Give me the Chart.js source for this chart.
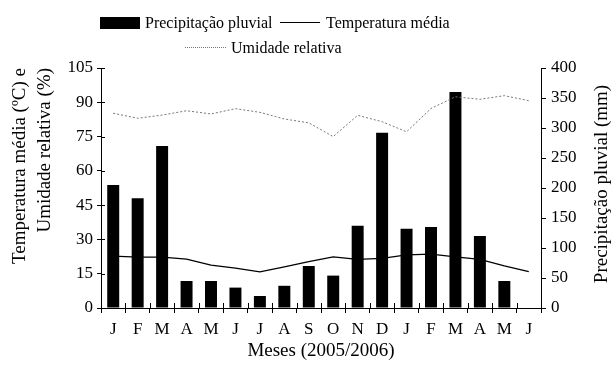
<!DOCTYPE html>
<html>
<head>
<meta charset="utf-8">
<script src="https://cdn.jsdelivr.net/npm/chart.js@4.4.1/dist/chart.umd.min.js"></script>
<style>
  body { margin: 0; background: #fff; }
  #wrap { position: relative; width: 614px; height: 372px; }
  #legend span { position: absolute; font-family: "Liberation Serif", serif; font-size: 16px; color: #000; line-height: 16px; white-space: nowrap; }
  #legend i { position: absolute; display: block; }
</style>
</head>
<body>
<div id="wrap">
  <canvas id="chart" width="614" height="372"></canvas>
  <div id="legend">
    <i style="left:100px;top:17px;width:40px;height:12px;background:#000"></i>
    <span style="left:145px;top:15px">Precipitação pluvial</span>
    <i style="left:280px;top:22px;width:40px;height:0;border-top:1.5px solid #000"></i>
    <span style="left:326px;top:15px">Temperatura média</span>
    <i style="left:185px;top:47px;width:41px;height:0;border-top:1px dotted #777"></i>
    <span style="left:231px;top:40px">Umidade relativa</span>
  </div>
</div>
<script>
// months Jan/2005 .. Jun/2006
const months = ["J", "F", "M", "A", "M", "J", "J", "A", "S", "O", "N", "D", "J", "F", "M", "A", "M", "J"];
// precipitation (mm), right axis
const precipitacao = [205, 183, 270, 45, 45, 34, 20, 37, 70, 54, 137, 292, 132, 135, 360, 120, 45, 0];
// mean temperature (ºC), left axis
const temperatura = [22.7, 22.3, 22.3, 21.4, 18.8, 17.4, 15.8, 18, 20.3, 22.4, 21.3, 21.7, 23.2, 23.6, 22.4, 21.3, 18.4, 15.9];
// relative humidity (%), left axis
const umidade = [85.2, 83, 84.4, 86.3, 84.9, 87.2, 85.6, 82.7, 81, 75, 84.3, 81.5, 77.1, 87.3, 92.4, 91.3, 92.9, 90.7];

const leftTicks = [0, 15, 30, 45, 60, 75, 90, 105];
const rightTicks = [0, 50, 100, 150, 200, 250, 300, 350, 400];
const rightTitle = "Precipitação pluvial (mm)";

Chart.defaults.font.family = "Liberation Serif";
Chart.defaults.color = "#000";

// ticks that cross the left and bottom axis lines
const crossTicks = {
  id: "crossTicks",
  afterDraw(chart) {
    const { ctx, chartArea, scales } = chart;
    ctx.save();
    ctx.strokeStyle = "#000";
    ctx.lineWidth = 1;
    ctx.beginPath();
    leftTicks.forEach((v) => {
      const y = Math.round(scales.y.getPixelForValue(v)) + 0.5;
      ctx.moveTo(chartArea.left, y);
      ctx.lineTo(chartArea.left + 4, y);
    });
    for (let i = 0; i <= months.length; i++) {
      const x = Math.round(scales.x.getPixelForValue(i - 0.5)) + 0.5;
      ctx.moveTo(x, chartArea.bottom);
      ctx.lineTo(x, chartArea.bottom - 5);
    }
    ctx.stroke();

    // right axis title, read bottom to top like the left one
    const s = scales.y1;
    ctx.translate(s.right - 12, (chartArea.top + chartArea.bottom) / 2 - 4);
    ctx.rotate(-Math.PI / 2);
    ctx.font = "19px 'Liberation Serif'";
    ctx.fillStyle = "#000";
    ctx.textAlign = "center";
    ctx.textBaseline = "middle";
    ctx.fillText(rightTitle, 0, 0);
    ctx.restore();
  }
};

new Chart(document.getElementById("chart"), {
  type: "bar",
  data: {
    labels: months,
    datasets: [
      {
        type: "line",
        label: "Umidade relativa",
        data: umidade,
        yAxisID: "y",
        borderColor: "#777",
        borderWidth: 1,
        borderDash: [2, 2],
        pointRadius: 0,
        tension: 0,
        order: 1
      },
      {
        type: "line",
        label: "Temperatura média",
        data: temperatura,
        yAxisID: "y",
        borderColor: "#000",
        borderWidth: 1.3,
        pointRadius: 0,
        tension: 0,
        order: 2
      },
      {
        label: "Precipitação pluvial",
        data: precipitacao,
        yAxisID: "y1",
        backgroundColor: "#000",
        categoryPercentage: 1,
        barPercentage: 0.49,
        order: 3
      }
    ]
  },
  options: {
    responsive: false,
    animation: false,
    layout: { padding: { top: 68, left: 0, right: 0, bottom: 0 } },
    plugins: {
      legend: { display: false },
      tooltip: { enabled: false }
    },
    scales: {
      x: {
        offset: true,
        grid: { offset: true, drawOnChartArea: false, color: "#000", tickLength: 5 },
        border: { color: "#000", width: 1 },
        ticks: { font: { size: 17 }, padding: 6, maxRotation: 0, autoSkip: false },
        title: { display: true, text: "Meses (2005/2006)", font: { size: 19 }, padding: { top: 0, bottom: 10 } },
        afterFit: (s) => { s.height = 64; }
      },
      y: {
        position: "left",
        min: 0,
        max: 105,
        afterBuildTicks: (s) => { s.ticks = leftTicks.map((v) => ({ value: v })); },
        grid: { drawOnChartArea: false, color: "#000", tickLength: 4 },
        border: { color: "#000", width: 1 },
        ticks: { font: { size: 17 }, padding: 4 },
        title: {
          display: true,
          text: ["Temperatura média (ºC) e", "Umidade relativa (%)"],
          align: "end",
          font: { size: 19, lineHeight: 1.35 },
          padding: { top: 7, bottom: 0 }
        },
        afterFit: (s) => { s.width = 101; }
      },
      y1: {
        position: "right",
        min: 0,
        max: 400,
        afterBuildTicks: (s) => { s.ticks = rightTicks.map((v) => ({ value: v })); },
        grid: { drawOnChartArea: false, color: "#000", tickLength: 5 },
        border: { color: "#000", width: 1 },
        ticks: { font: { size: 17 }, padding: 5 },
        afterFit: (s) => { s.width = 73; }
      }
    }
  },
  plugins: [crossTicks]
});
</script>
</body>
</html>
